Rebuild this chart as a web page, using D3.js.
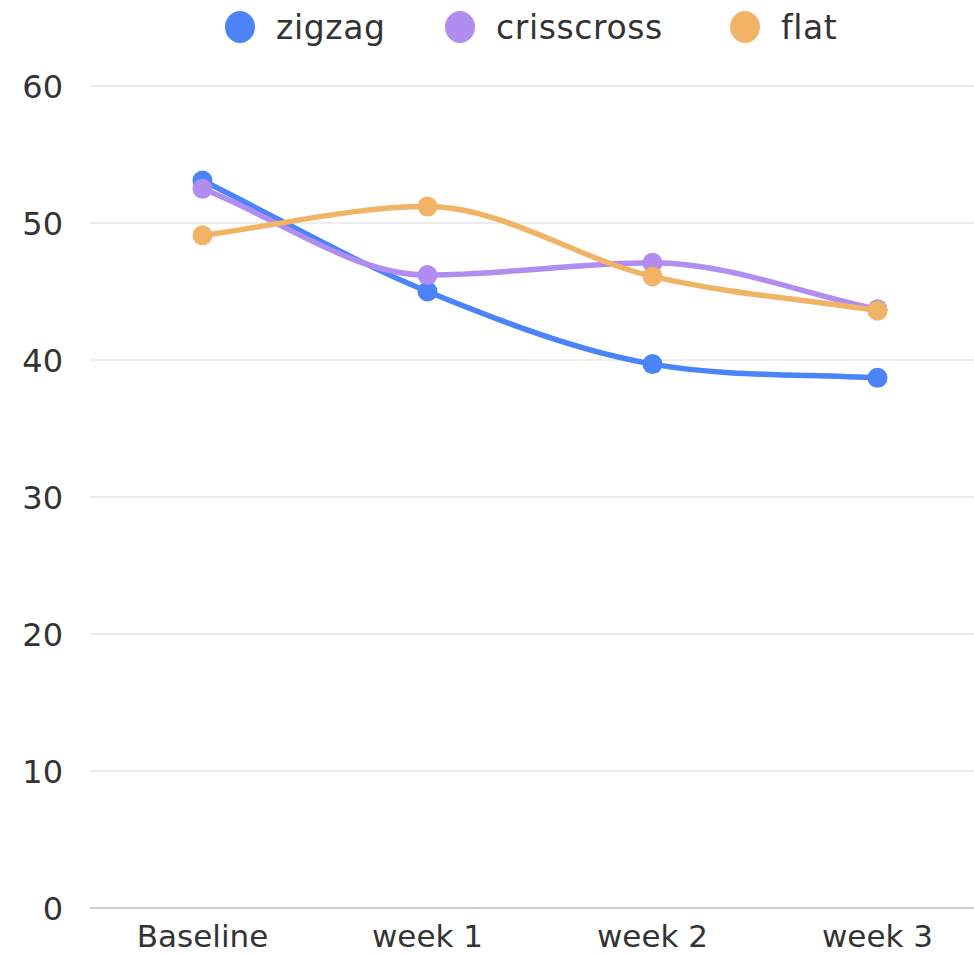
<!DOCTYPE html>
<html><head><meta charset="utf-8">
<script src="https://cdn.jsdelivr.net/npm/d3@7"></script>
<style>body{margin:0;background:#fff;overflow:hidden}</style>
</head><body>
<svg id="c" width="974" height="955"></svg>
<script>
const categories = ["Baseline", "week 1", "week 2", "week 3"];
const seriesNames = ["zigzag", "crisscross", "flat"];
const zigzag = [53.1, 45.0, 39.7, 38.7];
const crisscross = [52.5, 46.2, 47.1, 43.7];
const flat = [49.1, 51.2, 46.1, 43.6];
const yTicks = [0, 10, 20, 30, 40, 50, 60];
const colors = ["#4b84f8", "#b18cf1", "#f1b467"];

(function () {
// monotone cubic interpolation with secant end tangents
function MonoCurve(context) { this._context = context; }
MonoCurve.prototype = {
  areaStart() {}, areaEnd() {},
  lineStart() { this._pts = []; },
  point(x, y) { this._pts.push([+x, +y]); },
  lineEnd() {
    const p = this._pts, n = p.length, c = this._context;
    if (!n) return;
    c.moveTo(p[0][0], p[0][1]);
    if (n === 1) return;
    const d = [], m = [];
    for (let i = 0; i < n - 1; i++) d.push((p[i + 1][1] - p[i][1]) / (p[i + 1][0] - p[i][0]));
    for (let i = 0; i < n; i++) {
      if (i === 0) m.push(d[0]);
      else if (i === n - 1) m.push(d[n - 2]);
      else if (Math.sign(d[i - 1]) !== Math.sign(d[i]) || d[i - 1] === 0 || d[i] === 0) m.push(0);
      else m.push((d[i - 1] + d[i]) / 2);
    }
    for (let i = 0; i < n - 1; i++) {
      if (d[i] === 0) { m[i] = m[i + 1] = 0; continue; }
      const a = m[i] / d[i], b = m[i + 1] / d[i], s = a * a + b * b;
      if (s > 9) { const t = 3 / Math.sqrt(s); m[i] = t * a * d[i]; m[i + 1] = t * b * d[i]; }
    }
    for (let i = 0; i < n - 1; i++) {
      const dx = (p[i + 1][0] - p[i][0]) / 3;
      c.bezierCurveTo(p[i][0] + dx, p[i][1] + m[i] * dx, p[i + 1][0] - dx, p[i + 1][1] - m[i + 1] * dx, p[i + 1][0], p[i + 1][1]);
    }
  }
};
const monoCurve = ctx => new MonoCurve(ctx);

const series = [zigzag, crisscross, flat];
const svg = d3.select("#c");
const pLeft = 90, pRight = 990, pTop = 86, pBottom = 908;
const x = d3.scaleBand().domain(categories).range([pLeft, pRight]).padding(0);
const y = d3.scaleLinear().domain([0, 60]).range([pBottom, pTop]);
const font = "DejaVu Sans, sans-serif";

svg.append("g").selectAll("line").data(yTicks.filter(d => d > 0)).join("line")
  .attr("x1", pLeft).attr("x2", 974).attr("y1", d => y(d)).attr("y2", d => y(d))
  .attr("stroke", "#e6e6e6").attr("stroke-width", 1.5);
svg.append("line").attr("x1", pLeft).attr("x2", 974).attr("y1", y(0)).attr("y2", y(0))
  .attr("stroke", "#cfcfcf").attr("stroke-width", 2);

svg.append("g").selectAll("text").data(yTicks).join("text")
  .attr("x", 63).attr("y", d => y(d)).attr("dy", "0.36em").attr("text-anchor", "end")
  .attr("font-family", font).attr("font-size", 32).attr("fill", "#333")
  .text(d => d);

svg.append("g").selectAll("text").data(categories).join("text")
  .attr("x", d => x(d) + x.bandwidth() / 2).attr("y", 947).attr("text-anchor", "middle")
  .attr("font-family", font).attr("font-size", 31).attr("fill", "#333")
  .text(d => d);

const line = d3.line().x((d, i) => x(categories[i]) + x.bandwidth() / 2).y(d => y(d)).curve(monoCurve);
series.forEach((s, k) => {
  const g = svg.append("g");
  g.append("path").attr("d", line(s)).attr("fill", "none").attr("stroke", colors[k]).attr("stroke-width", 5.5);
  g.selectAll("circle").data(s).join("circle")
    .attr("cx", (d, i) => x(categories[i]) + x.bandwidth() / 2).attr("cy", d => y(d)).attr("r", 10)
    .attr("fill", colors[k]);
});

const legX = [240, 460, 745];
seriesNames.forEach((n, k) => {
  svg.append("ellipse").attr("cx", legX[k]).attr("cy", 27).attr("rx", 15).attr("ry", 16).attr("fill", colors[k]);
  svg.append("text").attr("x", legX[k] + 36).attr("y", 27).attr("dy", "0.35em")
    .attr("font-family", font).attr("font-size", 33).attr("letter-spacing", 0.6).attr("fill", "#333")
    .text(n);
});
})();
</script>
</body></html>
